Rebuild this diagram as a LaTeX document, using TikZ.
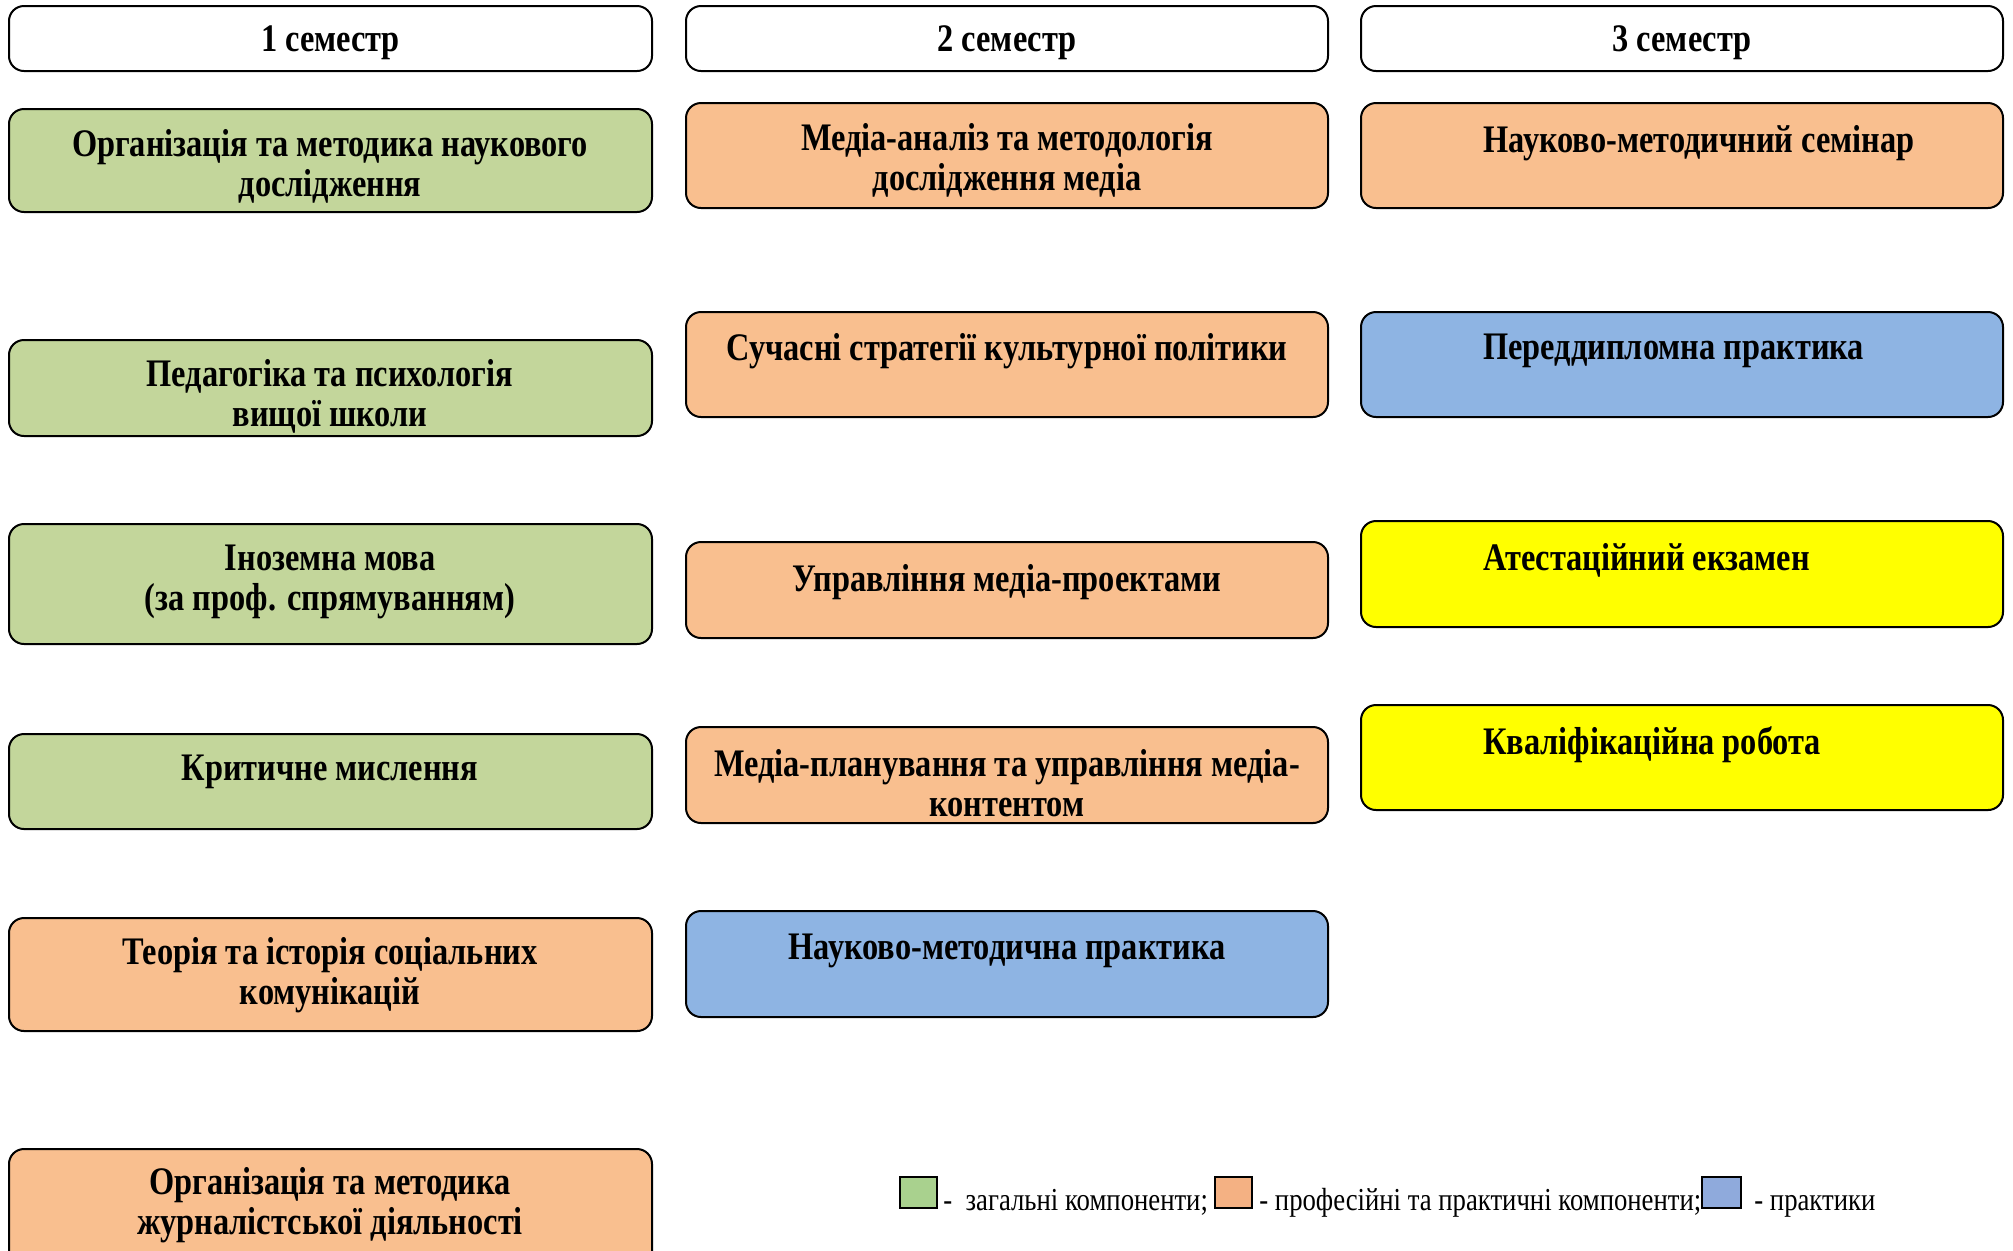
\documentclass[tikz,border=0pt]{standalone}
\usepackage{fontspec}
\setmainfont{Liberation Serif}
\newfontfamily\boxfont{Liberation Serif}[FakeStretch=0.83]
\newfontfamily\legfont{Liberation Serif}[FakeStretch=0.835]
\usetikzlibrary{fit}
\definecolor{cgreen}{HTML}{C3D69B}
\definecolor{corange}{HTML}{F9BF8F}
\definecolor{cblue}{HTML}{8EB4E3}
\definecolor{cyellow}{HTML}{FFFF00}
\definecolor{lgreen}{HTML}{A9D18E}
\definecolor{lorange}{HTML}{F4B183}
\definecolor{lblue}{HTML}{8FAADC}
\tikzset{
  box/.style={draw=black, line width=1pt, rounded corners=7.5pt, inner sep=0pt, rectangle},
  txt/.style={font=\boxfont\bfseries\fontsize{19.5}{20}\selectfont, align=center, inner sep=0pt, yshift=-2pt},
  ltxt/.style={font=\legfont\fontsize{16}{18}\selectfont, inner sep=0pt, anchor=base west},
  lsq/.style={draw=black, line width=0.8pt, inner sep=0pt},
}
\begin{document}
\begin{tikzpicture}[x=0.5pt, y=-0.5pt]
\clip (0,0) rectangle (2013,1250);
% headers
\node[box, fill=white, fit={(9,6) (652,71)}] (h1) {};
\node[box, fill=white, fit={(686,6) (1328,71)}] (h2) {};
\node[box, fill=white, fit={(1361,6) (2003,71)}] (h3) {};
\node[txt] at (h1.center) {1 семестр};
\node[txt] at (h2.center) {2 семестр};
\node[txt] at (h3.center) {3 семестр};
% column 1
\node[box, fill=cgreen, fit={(9,109) (652,212)}] (a1) {};
\node[box, fill=cgreen, fit={(9,340) (652,436)}] (a2) {};
\node[box, fill=cgreen, fit={(9,524) (652,644)}] (a3) {};
\node[box, fill=cgreen, fit={(9,734) (652,829)}] (a4) {};
\node[box, fill=corange, fit={(9,918) (652,1031)}] (a5) {};
\node[box, fill=corange, fit={(9,1149) (652,1275)}] (a6) {};
\node[txt] at (330,162) {Організація та методика наукового\\дослідження};
\node[txt] at (330,392) {Педагогіка та психологія\\вищої школи};
\node[txt] at (330,578) {Іноземна мова\\(за проф. спрямуванням)};
\node[txt] at (330,768) {Критичне мислення};
\node[txt] at (330,971) {Теорія та історія соціальних\\комунікацій};
\node[txt] at (330,1201) {Організація та методика\\журналістської діяльності};
% column 2
\node[box, fill=corange, fit={(686,103) (1328,208)}] (b1) {};
\node[box, fill=corange, fit={(686,312) (1328,417)}] (b2) {};
\node[box, fill=corange, fit={(686,542) (1328,638)}] (b3) {};
\node[box, fill=corange, fit={(686,727) (1328,823)}] (b4) {};
\node[box, fill=cblue, fit={(686,911) (1328,1017)}] (b5) {};
\node[txt] at (1007,156.5) {Медіа-аналіз та методологія\\дослідження медіа};
\node[txt] at (1007,347) {Сучасні стратегії культурної політики};
\node[txt] at (1007,578) {Управління медіа-проектами};
\node[txt] at (1007,779) {Медіа-планування та управління медіа-\\контентом};
\node[txt] at (1007,947) {Науково-методична практика};
% column 3
\node[box, fill=corange, fit={(1361,103) (2003,208)}] (c1) {};
\node[box, fill=cblue, fit={(1361,312) (2003,417)}] (c2) {};
\node[box, fill=cyellow, fit={(1361,521) (2003,627)}] (c3) {};
\node[box, fill=cyellow, fit={(1361,705) (2003,810)}] (c4) {};
\node[txt, anchor=west] at (1483,139) {Науково-методичний семінар};
\node[txt, anchor=west] at (1483,347) {Переддипломна практика};
\node[txt, anchor=west] at (1483,556) {Атестаційний екзамен};
\node[txt, anchor=west] at (1483,741) {Кваліфікаційна робота};
% legend
\node[lsq, fill=lgreen, fit={(900,1177) (937,1208)}] (lg) {};
\node[lsq, fill=lorange, fit={(1215,1177) (1252,1208)}] (lo) {};
\node[lsq, fill=lblue, fit={(1702,1177) (1741,1208)}] (lb) {};
\node[ltxt] at (943,1210) {-\ \ загальні компоненти;};
\node[ltxt] at (1259,1210) {- професійні та практичні компоненти;};
\node[ltxt] at (1754,1210) {- практики};
\end{tikzpicture}
\end{document}
